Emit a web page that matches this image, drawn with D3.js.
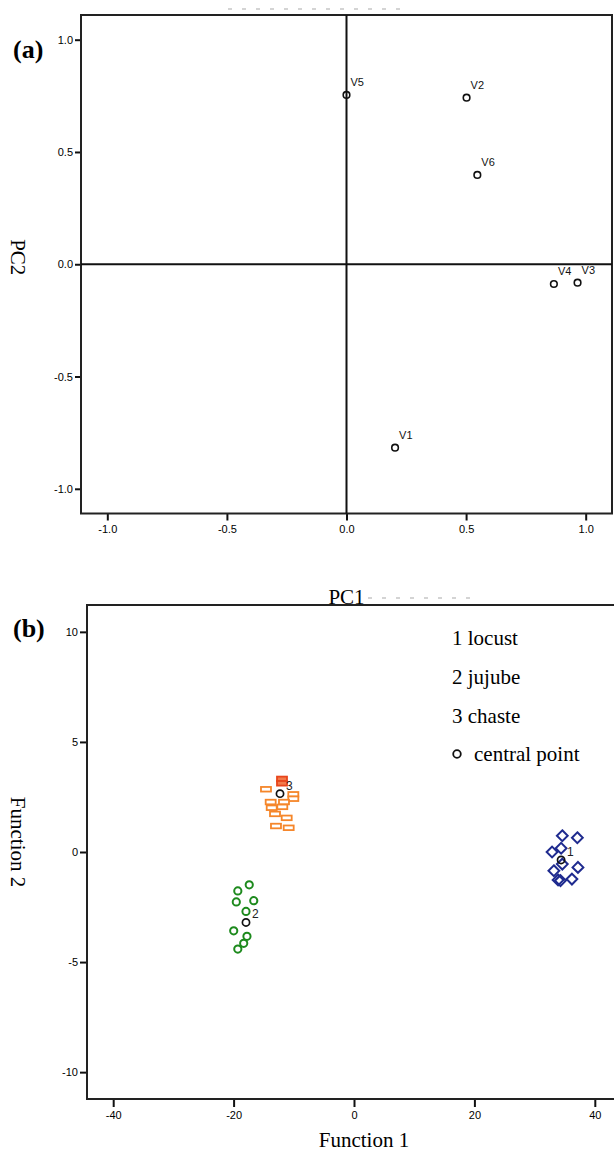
<!DOCTYPE html>
<html>
<head>
<meta charset="utf-8">
<script src="https://cdn.jsdelivr.net/npm/d3@7"></script>
<style>
  html, body { margin: 0; padding: 0; background: #fff; }
  svg { display: block; }
  .tick text { font-family: "Liberation Sans", Arial, sans-serif; font-size: 11px; fill: #000; }
  .tick line { stroke: #111; stroke-width: 2; }
</style>
</head>
<body>
<script>
// ---------- Panel (a): PCA loadings ----------
const pcaLabels = ["V1", "V2", "V3", "V4", "V5", "V6"];
const pc1Values = [0.203, 0.502, 0.966, 0.867, 0.000, 0.547];
const pc2Values = [-0.817, 0.742, -0.082, -0.088, 0.754, 0.398];
const pcaTicks = [-1.0, -0.5, 0.0, 0.5, 1.0];

// ---------- Panel (b): discriminant scores ----------
const locustF1 = [34.6, 37.1, 32.9, 34.4, 34.6, 37.2, 33.2, 36.2, 34.3, 33.9];
const locustF2 = [0.74, 0.65, 0.00, 0.17, -0.55, -0.70, -0.85, -1.23, -1.30, -1.27];
const jujubeF1 = [-17.4, -19.3, -19.55, -16.65, -17.94, -19.98, -17.78, -18.32, -19.3];
const jujubeF2 = [-1.49, -1.77, -2.27, -2.21, -2.70, -3.58, -3.83, -4.15, -4.41];
const chasteF1 = [-11.96, -11.96, -14.62, -10.08, -10.08, -13.84, -11.63, -13.67, -11.91, -13.12, -11.18, -12.96, -10.85];
const chasteF2 = [3.32, 3.12, 2.85, 2.62, 2.42, 2.27, 2.27, 2.01, 2.05, 1.73, 1.55, 1.18, 1.10];
const groupIds = ["1", "2", "3"];
const groupNames = ["locust", "jujube", "chaste"];
const centroidF1 = [34.4, -17.94, -12.29];
const centroidF2 = [-0.36, -3.20, 2.65];
const fnTicksX = [-40, -20, 0, 20, 40];
const fnTicksY = [-10, -5, 0, 5, 10];

const W = 614, H = 1155;
const svg = d3.select("body").append("svg").attr("width", W).attr("height", H);

const serif = "'Liberation Serif', 'Times New Roman', serif";
const sans = "'Liberation Sans', Arial, sans-serif";

// ================= Panel (a) =================
{
  const x = d3.scaleLinear().domain([-1.11, 1.11]).range([81, 612]);
  const y = d3.scaleLinear().domain([-1.11, 1.11]).range([513.5, 15]);
  const g = svg.append("g");

  // faint cut-off title remnants
  g.append("line").attr("x1", 228).attr("x2", 410).attr("y1", 9).attr("y2", 9)
    .attr("stroke", "#d4d4d4").attr("stroke-width", 2).attr("stroke-dasharray", "4,10");

  const ya = g.append("g").attr("transform", `translate(${x.range()[0]},0)`)
    .call(d3.axisLeft(y).tickValues(pcaTicks).tickSize(6).tickPadding(2).tickFormat(d => d.toFixed(1)));
  ya.select(".domain").remove();
  const xa = g.append("g").attr("transform", `translate(0,${y.range()[0]})`)
    .call(d3.axisBottom(x).tickValues(pcaTicks).tickSize(7).tickPadding(5).tickFormat(d => d.toFixed(1)));
  xa.select(".domain").remove();

  // frame
  g.append("rect").attr("x", x.range()[0]).attr("y", y.range()[1])
    .attr("width", x.range()[1] - x.range()[0]).attr("height", y.range()[0] - y.range()[1])
    .attr("fill", "none").attr("stroke", "#222").attr("stroke-width", 2);

  // reference lines at 0
  g.append("line").attr("x1", x.range()[0]).attr("x2", x.range()[1])
    .attr("y1", y(0)).attr("y2", y(0)).attr("stroke", "#111").attr("stroke-width", 2);
  g.append("line").attr("x1", x(0)).attr("x2", x(0))
    .attr("y1", y.range()[1]).attr("y2", y.range()[0]).attr("stroke", "#111").attr("stroke-width", 2);

  const pts = pcaLabels.map((l, i) => ({ l, a: pc1Values[i], b: pc2Values[i] }));
  g.selectAll("circle.pt").data(pts).join("circle").attr("class", "pt")
    .attr("cx", d => x(d.a)).attr("cy", d => y(d.b)).attr("r", 3.3)
    .attr("fill", "none").attr("stroke", "#111").attr("stroke-width", 1.6);
  g.selectAll("text.lbl").data(pts).join("text").attr("class", "lbl")
    .attr("x", d => x(d.a) + 4).attr("y", d => y(d.b) - 9)
    .attr("font-family", sans).attr("font-size", 11).attr("fill", "#111").text(d => d.l);

  g.append("text").attr("x", 13).attr("y", 58).attr("font-family", serif)
    .attr("font-weight", "bold").attr("font-size", 26).text("(a)");
  g.append("text").attr("transform", `translate(11,${(y.range()[0] + y.range()[1]) / 2 - 7}) rotate(90)`)
    .attr("text-anchor", "middle").attr("font-family", serif).attr("font-size", 21).text("PC2");
  g.append("text").attr("x", x(0)).attr("y", 604).attr("text-anchor", "middle")
    .attr("font-family", serif).attr("font-size", 21).text("PC1");
}

// ================= Panel (b) =================
{
  const x = d3.scaleLinear().domain([-44.35, 44.35]).range([87, 621]);
  const y = d3.scaleLinear().domain([-11.22, 11.22]).range([1099, 605]);
  const g = svg.append("g");

  g.append("line").attr("x1", 368).attr("x2", 478).attr("y1", 598).attr("y2", 598)
    .attr("stroke", "#d4d4d4").attr("stroke-width", 2).attr("stroke-dasharray", "4,10");

  const ya = g.append("g").attr("transform", `translate(${x.range()[0]},0)`)
    .call(d3.axisLeft(y).tickValues(fnTicksY).tickSize(7).tickPadding(2).tickFormat(d => String(d)));
  ya.select(".domain").remove();
  const xa = g.append("g").attr("transform", `translate(0,${y.range()[0]})`)
    .call(d3.axisBottom(x).tickValues(fnTicksX).tickSize(8).tickPadding(4).tickFormat(d => String(d)));
  xa.select(".domain").remove();

  g.append("rect").attr("x", x.range()[0]).attr("y", y.range()[1])
    .attr("width", x.range()[1] - x.range()[0]).attr("height", y.range()[0] - y.range()[1])
    .attr("fill", "none").attr("stroke", "#222").attr("stroke-width", 2);

  // chaste: rectangles
  const chaste = chasteF1.map((v, i) => ({ a: v, b: chasteF2[i], i }));
  g.selectAll("rect.ch").data(chaste).join("rect").attr("class", "ch")
    .attr("x", d => x(d.a) - 5).attr("y", d => y(d.b) - 2.3).attr("width", 10).attr("height", 4.6)
    .attr("fill", d => d.i < 2 ? "#f27a4a" : "#fff")
    .attr("stroke", d => d.i < 2 ? "#e8461c" : "#f5862a").attr("stroke-width", 1.8);

  // jujube: circles
  const jujube = jujubeF1.map((v, i) => ({ a: v, b: jujubeF2[i] }));
  g.selectAll("circle.jj").data(jujube).join("circle").attr("class", "jj")
    .attr("cx", d => x(d.a)).attr("cy", d => y(d.b)).attr("r", 3.6)
    .attr("fill", "none").attr("stroke", "#1d8a1d").attr("stroke-width", 2);

  // locust: diamonds
  const locust = locustF1.map((v, i) => ({ a: v, b: locustF2[i] }));
  const diamond = "M0,-5.4L5.4,0L0,5.4L-5.4,0Z";
  g.selectAll("path.lc").data(locust).join("path").attr("class", "lc")
    .attr("transform", d => `translate(${x(d.a)},${y(d.b)})`).attr("d", diamond)
    .attr("fill", "none").attr("stroke", "#1f2b8f").attr("stroke-width", 2);

  // centroids
  const cents = groupIds.map((id, i) => ({ id, a: centroidF1[i], b: centroidF2[i] }));
  g.selectAll("circle.ct").data(cents).join("circle").attr("class", "ct")
    .attr("cx", d => x(d.a)).attr("cy", d => y(d.b)).attr("r", 3.6)
    .attr("fill", "none").attr("stroke", "#111").attr("stroke-width", 1.7);
  g.selectAll("text.ct").data(cents).join("text").attr("class", "ct")
    .attr("x", d => x(d.a) + 6).attr("y", d => y(d.b) - 4)
    .attr("font-family", sans).attr("font-size", 12).attr("fill", "#222").text(d => d.id);

  // legend
  const leg = g.append("g");
  groupIds.forEach((id, i) => {
    leg.append("text").attr("x", 452).attr("y", 645 + i * 38.8)
      .attr("font-family", serif).attr("font-size", 21).text(`${id} ${groupNames[i]}`);
  });
  leg.append("circle").attr("cx", 457).attr("cy", 754).attr("r", 3.8)
    .attr("fill", "none").attr("stroke", "#111").attr("stroke-width", 1.8);
  leg.append("text").attr("x", 474).attr("y", 761)
    .attr("font-family", serif).attr("font-size", 21).text("central point");

  g.append("text").attr("x", 13).attr("y", 637).attr("font-family", serif)
    .attr("font-weight", "bold").attr("font-size", 26).text("(b)");
  g.append("text").attr("transform", `translate(11,${(y.range()[0] + y.range()[1]) / 2 - 10}) rotate(90)`)
    .attr("text-anchor", "middle").attr("font-family", serif).attr("font-size", 21).text("Function 2");
  g.append("text").attr("x", x(0) + 10).attr("y", 1147).attr("text-anchor", "middle")
    .attr("font-family", serif).attr("font-size", 21).text("Function 1");
}
</script>
</body>
</html>
